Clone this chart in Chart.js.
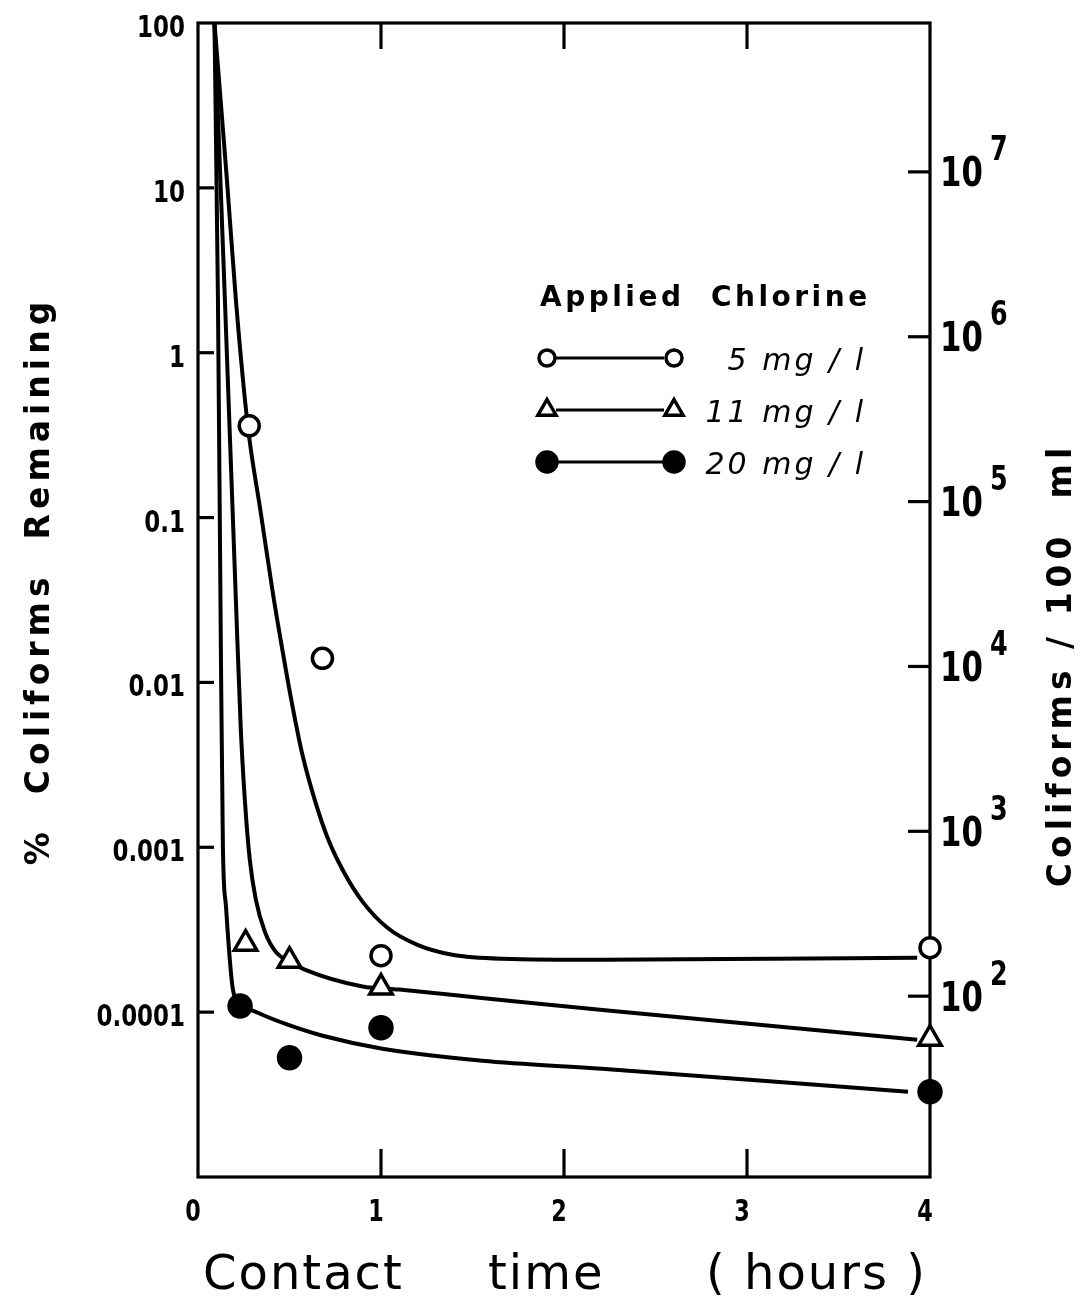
<!DOCTYPE html>
<html>
<head>
<meta charset="utf-8">
<script src="https://cdn.jsdelivr.net/npm/chart.js@4"></script>
<style>
  body { margin: 0; background: #fff; }
  #wrap { width: 1086px; height: 1299px; }
</style>
</head>
<body>
<div id="wrap"><canvas id="myChart" width="1086" height="1299"></canvas></div>
<script>
// axis ticks
const xTickValues = [0, 1, 2, 3, 4];
const xTickLabels = ['0', '1', '2', '3', '4'];
const leftTickValues = [0.0001, 0.001, 0.01, 0.1, 1, 10, 100];
const leftTickLabels = ['0.0001', '0.001', '0.01', '0.1', '1', '10', '100'];
const rightExponents = [2, 3, 4, 5, 6, 7];

// legend names
const seriesNames = ['5 mg / l', '11 mg / l', '20 mg / l'];

// measured points (hours, % remaining)
const pts5Time = [0.28, 0.68, 1.0, 4.0];
const pts5Pct = [0.36, 0.014, 0.00022, 0.000246];
const pts11Time = [0.26, 0.5, 1.0, 4.0];
const pts11Pct = [0.00026, 0.000205, 0.000141, 0.000069];
const pts20Time = [0.23, 0.5, 1.0, 4.0];
const pts20Pct = [0.000109, 0.0000529, 0.0000804, 0.0000329];

// fitted curves
const curve5Time = [0.09, 0.158, 0.207, 0.272, 0.343, 0.409, 0.463, 0.518, 0.572, 0.638, 0.708, 0.790, 0.899, 1.035, 1.199, 1.390, 1.662, 2.207, 3.93];
const curve5Pct = [100, 11.2, 2.09, 0.36, 0.107, 0.0349, 0.01534, 0.00702, 0.00359, 0.00194, 0.001143, 0.000731, 0.000468, 0.000325, 0.000256, 0.000223, 0.000211, 0.000208, 0.000214];
const curve11Time = [0.09, 0.147, 0.207, 0.234, 0.256, 0.283, 0.316, 0.365, 0.425, 0.501, 0.583, 0.899, 1.10, 1.55, 2.21, 3.93];
const curve11Pct = [100, 2.09, 0.0317, 0.00516, 0.00194, 0.00084, 0.000481, 0.000308, 0.000232, 0.000202, 0.000181, 0.000143, 0.000137, 0.000122, 0.000103, 0.0000681];
const curve20Time = [0.09, 0.109, 0.125, 0.136, 0.153, 0.191, 0.234, 0.327, 0.490, 0.681, 1.008, 1.553, 2.207, 3.88];
const curve20Pct = [100, 2.09, 0.0158, 0.00101, 0.000436, 0.000137, 0.000112, 0.0000991, 0.0000839, 0.0000719, 0.00006, 0.0000507, 0.0000454, 0.0000329];

function toXY(xs, ys) {
  return xs.map((x, i) => ({ x: x, y: ys[i] }));
}

function curve(xs, ys) {
  return {
    data: toXY(xs, ys),
    showLine: true,
    borderColor: '#000',
    borderWidth: 4,
    pointRadius: 0,
    cubicInterpolationMode: 'monotone',
    clip: false,
    order: 1
  };
}

function marks(xs, ys, style, radius, fill) {
  return {
    data: toXY(xs, ys),
    showLine: false,
    pointStyle: style,
    pointRadius: radius,
    pointHoverRadius: radius,
    pointBorderWidth: 3.5,
    pointBorderColor: '#000',
    pointBackgroundColor: fill,
    clip: false,
    order: 0
  };
}

function drawMark(ctx, style, x, y, r, fill) {
  ctx.beginPath();
  if (style === 'triangle') {
    ctx.moveTo(x, y - r);
    ctx.lineTo(x + r * 0.866, y + r / 2);
    ctx.lineTo(x - r * 0.866, y + r / 2);
    ctx.closePath();
  } else {
    ctx.arc(x, y, r, 0, Math.PI * 2);
  }
  ctx.fillStyle = fill;
  ctx.fill();
  ctx.stroke();
}

function seg(ctx, x1, y1, x2, y2) {
  ctx.beginPath();
  ctx.moveTo(x1, y1);
  ctx.lineTo(x2, y2);
  ctx.stroke();
}

// narrow text: squeeze horizontally, like the condensed lettering of the scan
function narrowText(ctx, text, x, y, sx, align) {
  ctx.save();
  ctx.translate(x, y);
  ctx.scale(sx, 1);
  ctx.textAlign = align;
  ctx.fillText(text, 0, 0);
  ctx.restore();
}

const decor = {
  id: 'decor',
  beforeDatasetsDraw(chart) {
    const { ctx, chartArea: a, scales } = chart;
    ctx.save();
    ctx.strokeStyle = '#000';
    ctx.lineWidth = 3.2;
    ctx.strokeRect(a.left, a.top, a.right - a.left, a.bottom - a.top);
    leftTickValues.forEach(v => {
      const y = scales.y.getPixelForValue(v);
      if (y > a.top + 2) seg(ctx, a.left, y, a.left + 16, y);
    });
    xTickValues.slice(1, -1).forEach(v => {
      const x = scales.x.getPixelForValue(v);
      seg(ctx, x, a.bottom, x, a.bottom - 28);
      seg(ctx, x, a.top, x, a.top + 26);
    });
    rightExponents.forEach(e => {
      const y = scales.y2.getPixelForValue(Math.pow(10, e));
      seg(ctx, a.right - 22, y, a.right, y);
    });
    ctx.restore();
  },
  afterDraw(chart) {
    const { ctx, chartArea: a, scales } = chart;
    ctx.save();
    ctx.fillStyle = '#000';
    ctx.strokeStyle = '#000';

    // left tick labels
    ctx.font = 'bold 31px "DejaVu Sans"';
    ctx.textBaseline = 'middle';
    leftTickValues.forEach((v, i) => {
      const y = scales.y.getPixelForValue(v);
      narrowText(ctx, leftTickLabels[i], 185, y + 6, 0.74, 'right');
    });

    // bottom tick labels
    ctx.font = 'bold 31px "DejaVu Sans"';
    xTickValues.forEach((v, i) => {
      const x = scales.x.getPixelForValue(v);
      narrowText(ctx, xTickLabels[i], x - 5, 1213, 0.72, 'center');
    });

    // right axis labels 10^n
    rightExponents.forEach(e => {
      const y = scales.y2.getPixelForValue(Math.pow(10, e));
      ctx.font = 'bold 40px "DejaVu Sans"';
      narrowText(ctx, '10', a.right + 10, y + 4, 0.77, 'left');
      ctx.font = 'bold 33px "DejaVu Sans"';
      narrowText(ctx, String(e), a.right + 60, y - 20, 0.77, 'left');
    });
    ctx.textBaseline = 'alphabetic';

    // left title
    ctx.save();
    ctx.translate(49, 581);
    ctx.rotate(-Math.PI / 2);
    ctx.font = 'bold 33px "DejaVu Sans"';
    ctx.letterSpacing = '5px';
    ctx.textAlign = 'center';
    ctx.fillText('%  Coliforms  Remaining', 0, 0);
    ctx.restore();

    // right title
    ctx.save();
    ctx.translate(1071, 665);
    ctx.rotate(-Math.PI / 2);
    ctx.font = 'bold 33px "DejaVu Sans"';
    ctx.letterSpacing = '5px';
    ctx.textAlign = 'center';
    ctx.fillText('Coliforms / 100  ml', 0, 0);
    ctx.restore();

    // bottom title
    ctx.font = '48px "DejaVu Sans"';
    ctx.letterSpacing = '2px';
    ctx.textAlign = 'left';
    ctx.fillText('Contact', 203, 1289);
    ctx.fillText('time', 488, 1289);
    ctx.fillText('( hours )', 706, 1289);

    // legend
    ctx.font = 'bold 28px "DejaVu Sans"';
    ctx.letterSpacing = '3.5px';
    ctx.fillText('Applied  Chlorine', 540, 306);
    const rows = [
      { y: 358, style: 'circle', r: 8, fill: '#fff' },
      { y: 410, style: 'triangle', r: 10.5, fill: '#fff' },
      { y: 462, style: 'circle', r: 10, fill: '#000' }
    ];
    ctx.font = 'italic 30px "DejaVu Sans"';
    ctx.letterSpacing = '3px';
    ctx.textAlign = 'right';
    rows.forEach((row, i) => {
      ctx.lineWidth = 3;
      seg(ctx, 556, row.y, 664, row.y);
      ctx.lineWidth = 3.5;
      drawMark(ctx, row.style, 547, row.y, row.r, row.fill);
      drawMark(ctx, row.style, 674, row.y, row.r, row.fill);
      ctx.fillStyle = '#000';
      ctx.fillText(seriesNames[i], 866, row.y + 12);
    });
    ctx.letterSpacing = '0px';
    ctx.restore();
  }
};

const ctx = document.getElementById('myChart');

new Chart(ctx, {
  type: 'scatter',
  data: {
    datasets: [
      marks(pts5Time, pts5Pct, 'circle', 10, '#fff'),
      marks(pts11Time, pts11Pct, 'triangle', 13, '#fff'),
      marks(pts20Time, pts20Pct, 'circle', 11, '#000'),
      curve(curve5Time, curve5Pct),
      curve(curve11Time, curve11Pct),
      curve(curve20Time, curve20Pct)
    ]
  },
  options: {
    responsive: false,
    animation: false,
    layout: { padding: { top: 23, left: 0, right: 0, bottom: 0 } },
    plugins: {
      legend: { display: false },
      tooltip: { enabled: false }
    },
    scales: {
      x: {
        type: 'linear',
        min: 0,
        max: 4,
        grid: { display: false, drawTicks: false },
        border: { display: false },
        afterBuildTicks: (scale) => { scale.ticks = xTickValues.map(v => ({ value: v })); },
        afterFit: (scale) => { scale.height = 122; },
        ticks: { display: false }
      },
      y: {
        type: 'logarithmic',
        position: 'left',
        min: 0.00001,
        max: 100,
        grid: { display: false, drawTicks: false },
        border: { display: false },
        afterBuildTicks: (scale) => { scale.ticks = leftTickValues.map(v => ({ value: v })); },
        afterFit: (scale) => { scale.width = 198; },
        ticks: { display: false }
      },
      y2: {
        type: 'logarithmic',
        position: 'right',
        min: 8,
        max: 80000000,
        grid: { display: false, drawTicks: false },
        border: { display: false },
        afterFit: (scale) => { scale.width = 156; },
        ticks: { display: false }
      }
    }
  },
  plugins: [decor]
});
</script>
</body>
</html>
